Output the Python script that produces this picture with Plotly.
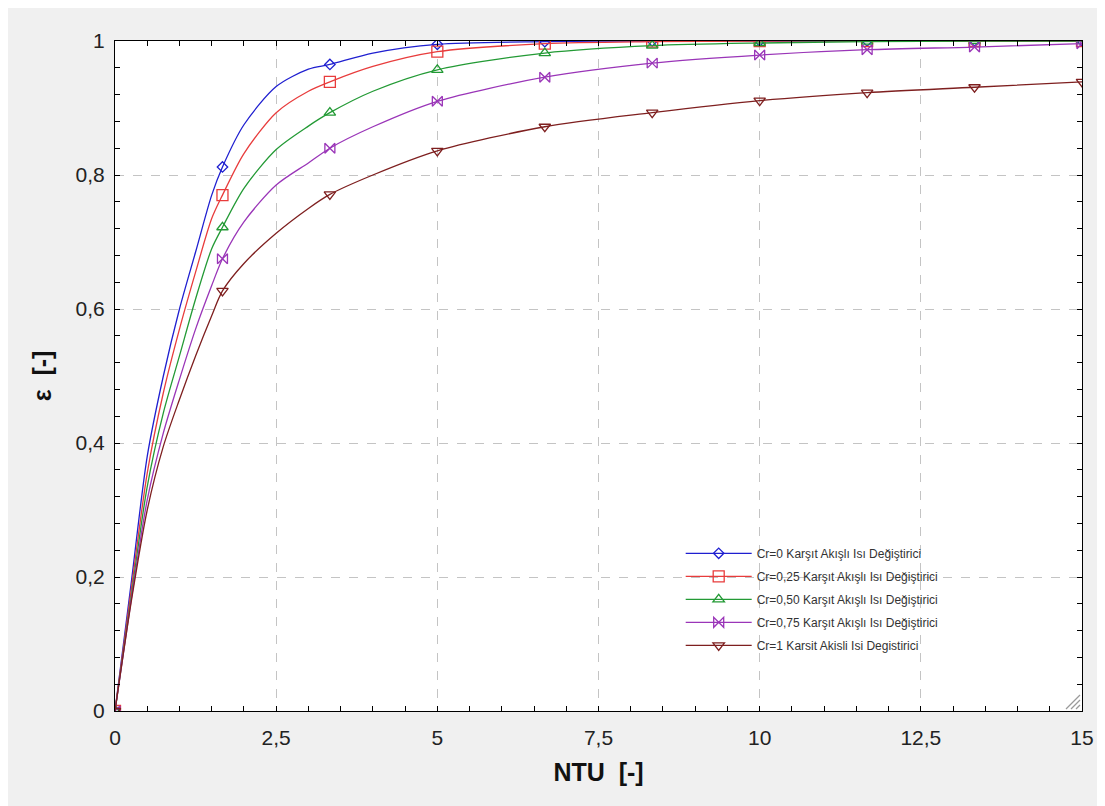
import plotly.graph_objects as go

# NTU values (x)
ntu = [0, 0.25, 0.5, 0.75, 1.0, 1.25, 1.5, 1.667, 2.0, 2.5, 3.0, 3.333, 4.0,
       5.0, 6.667, 8.333, 10.0, 11.667, 13.333, 15.0]
# indices of points that carry a marker
marker_idx = [0, 7, 11, 13, 14, 15, 16, 17, 18, 19]

eps_cr0 = [0, 0.19, 0.38, 0.50, 0.60, 0.685, 0.77, 0.812, 0.875, 0.932, 0.958,
           0.965, 0.982, 0.995, 0.999, 1.0, 1.0, 1.0, 1.0, 1.0]
eps_cr025 = [0, 0.18, 0.355, 0.475, 0.57, 0.655, 0.735, 0.770, 0.832, 0.893, 0.925,
             0.939, 0.962, 0.984, 0.996, 0.999, 1.0, 1.0, 1.0, 1.0]
eps_cr050 = [0, 0.17, 0.335, 0.445, 0.53, 0.615, 0.69, 0.722, 0.78, 0.838, 0.873,
             0.893, 0.925, 0.957, 0.982, 0.993, 0.997, 0.999, 1.0, 1.0]
eps_cr075 = [0, 0.165, 0.315, 0.415, 0.495, 0.57, 0.635, 0.675, 0.73, 0.785, 0.818,
             0.840, 0.872, 0.910, 0.946, 0.967, 0.979, 0.987, 0.991, 0.996]
eps_cr1 = [0, 0.162, 0.30, 0.395, 0.465, 0.53, 0.59, 0.627, 0.668, 0.713, 0.75,
           0.771, 0.80, 0.836, 0.872, 0.893, 0.911, 0.923, 0.931, 0.939]

series_names = [
    "Cr=0 Karşıt Akışlı Isı Değiştirici",
    "Cr=0,25 Karşıt Akışlı Isı Değiştirici",
    "Cr=0,50 Karşıt Akışlı Isı Değiştirici",
    "Cr=0,75 Karşıt Akışlı Isı Değiştirici",
    "Cr=1 Karsit Akisli Isi Degistirici",
]
series_vals = [eps_cr0, eps_cr025, eps_cr050, eps_cr075, eps_cr1]
colors = ["#1f1fd0", "#e83c3c", "#239a35", "#9a35b8", "#7e1f1f"]
symbols = ["diamond-open", "square-open", "triangle-up-open", "bowtie-open", "triangle-down-open"]
sizes = [8, 11, 10, 10, 10]

x_ticks = [0, 2.5, 5, 7.5, 10, 12.5, 15]
x_ticktext = ["0", "2,5", "5", "7,5", "10", "12,5", "15"]
y_ticks = [0, 0.2, 0.4, 0.6, 0.8, 1.0]
y_ticktext = ["0", "0,2", "0,4", "0,6", "0,8", "1"]

fig = go.Figure()
for i, (name, vals, col, sym, sz) in enumerate(zip(series_names, series_vals, colors, symbols, sizes)):
    fig.add_trace(go.Scatter(
        x=ntu, y=vals, name=name, mode="lines+markers", legendgroup=f"g{i}",
        line=dict(color=col, width=1.3, shape="spline", smoothing=0.8),
        marker=dict(symbol=sym, size=sz, color=col, line=dict(color=col, width=1.3)),
        selectedpoints=marker_idx,
        selected=dict(marker=dict(opacity=1)),
        unselected=dict(marker=dict(opacity=0)),
        cliponaxis=True,
    ))

# page is drawn with an 8px body margin offset
OFF = 8
W, H = 1105 - OFF, 806 - OFF
L, R, T, B = 107, 23, 33, 95
pw, ph = W - L - R, H - T - B

def px(xp):
    return (xp - OFF - L) / pw

def py(yp):
    return (H - B - (yp - OFF)) / ph

shapes = []
# resize grip in the lower right corner
for d in (4, 9, 14):
    shapes.append(dict(type="line", xref="paper", yref="paper",
                       x0=px(1080 - d), y0=py(709), x1=px(1080), y1=py(709 - d),
                       line=dict(color="#9a9a9a", width=1.2)))

fig.update_layout(
    width=W, height=H,
    margin=dict(l=L, r=R, t=T, b=B, pad=0),
    paper_bgcolor="#f0f0f0",
    plot_bgcolor="white",
    font=dict(family="Liberation Sans, Arial, sans-serif", color="#222"),
    showlegend=True,
    legend=dict(
        x=0.585, y=0.257, xanchor="left", yanchor="top",
        bgcolor="rgba(255,255,255,0)", borderwidth=0,
        font=dict(size=12, color="#333"),
        itemwidth=66, tracegroupgap=4,
    ),
    shapes=shapes,
)

fig.update_xaxes(
    range=[0, 15], tickvals=x_ticks, ticktext=x_ticktext,
    showline=True, linecolor="black", linewidth=1.2, mirror="allticks",
    ticks="inside", ticklen=5, tickcolor="black", tickwidth=1,
    minor=dict(dtick=0.5, tick0=0, ticks="inside", ticklen=5, tickcolor="black", showgrid=False),
    showgrid=True, gridcolor="#c4c4c4", griddash="dash", gridwidth=1,
    zeroline=False,
    tickfont=dict(size=21, color="#222"),
    ticklabelstandoff=8,
    title=dict(text="<b>NTU  [-]</b>", font=dict(size=25, color="#111"), standoff=15),
)
fig.update_yaxes(
    range=[0, 1], tickvals=y_ticks, ticktext=y_ticktext,
    showline=True, linecolor="black", linewidth=1.2, mirror="allticks",
    ticks="inside", ticklen=5, tickcolor="black", tickwidth=1,
    minor=dict(dtick=0.04, tick0=0, ticks="inside", ticklen=5, tickcolor="black", showgrid=False),
    showgrid=True, gridcolor="#c4c4c4", griddash="dash", gridwidth=1,
    zeroline=False,
    tickfont=dict(size=21, color="#222"),
    ticklabelstandoff=5,
    title=dict(text="<b>ε  [-]</b>", font=dict(size=25, color="#111"), standoff=16),
)

fig.write_html("out.html")
